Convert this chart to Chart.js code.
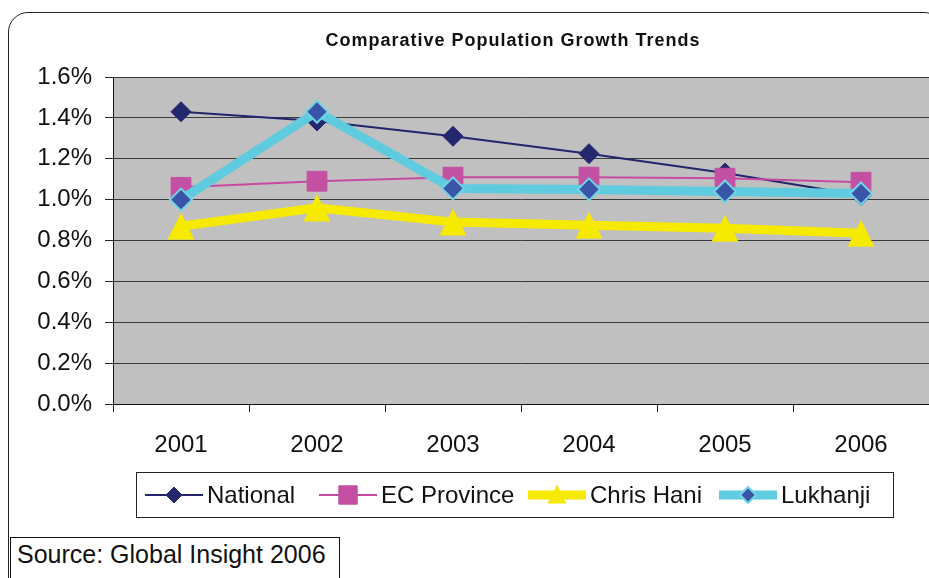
<!DOCTYPE html>
<html>
<head>
<meta charset="utf-8">
<script src="https://cdn.jsdelivr.net/npm/chart.js@4.4.0/dist/chart.umd.min.js"></script>
<style>
  html, body { margin: 0; padding: 0; background: #fff; }
  #wrap { position: relative; width: 929px; height: 578px; overflow: hidden; font-family: "Liberation Sans", Arial, sans-serif; }
  #frame { position: absolute; left: 8px; top: 12px; width: 934px; height: 620px; border: 1px solid #222; border-radius: 20px; }
  #chart { position: absolute; left: 0; top: 0; }
  #title { position: absolute; left: 0; top: 29px; width: 1026px; text-align: center; font-weight: bold; font-size: 18px; letter-spacing: 1px; line-height: 22px; color: #111; }
  #source { position: absolute; left: 10px; top: 537px; width: 322px; height: 50px; border: 1px solid #111; background: #fff; font-size: 25px; line-height: 28px; padding-left: 6px; padding-top: 2px; color: #111; }
</style>
</head>
<body>
<div id="wrap">
  <div id="frame"></div>
  <canvas id="chart" width="929" height="578"></canvas>
  <div id="title">Comparative Population Growth Trends</div>
  <div id="source">Source: Global Insight 2006</div>
</div>
<script>
const years = ['2001', '2002', '2003', '2004', '2005', '2006'];
const seriesNames = ['National', 'EC Province', 'Chris Hani', 'Lukhanji'];
const national = [1.43, 1.385, 1.31, 1.225, 1.13, 1.02];
const ecProvince = [1.06, 1.09, 1.11, 1.11, 1.105, 1.085];
const chrisHani = [0.87, 0.96, 0.89, 0.875, 0.86, 0.835];
const lukhanji = [1.00, 1.43, 1.055, 1.05, 1.04, 1.03];

const fontFamily = '"Liberation Sans", Arial, sans-serif';

// triangle marker centred on its bounding box, like the spreadsheet one
function makeTriangle(size, color) {
  const c = document.createElement('canvas');
  c.width = size; c.height = size;
  const g = c.getContext('2d');
  g.fillStyle = color;
  g.beginPath();
  g.moveTo(size / 2, 0.5);
  g.lineTo(size - 0.5, size - 0.5);
  g.lineTo(0.5, size - 0.5);
  g.closePath();
  g.fill();
  return c;
}
const yellow = '#f6ea00';
const triBig = makeTriangle(28, yellow);
const triSmall = makeTriangle(20, yellow);

const plotBackground = {
  id: 'plotBackground',
  beforeDraw(chart) {
    const a = chart.chartArea;
    const ctx = chart.ctx;
    ctx.save();
    ctx.fillStyle = '#c0c0c0';
    ctx.fillRect(a.left, a.top, a.right - a.left, a.bottom - a.top);
    ctx.restore();
  }
};

const legendStarts = [145, 319, 528, 719];
const boxLegend = {
  id: 'boxLegend',
  afterDraw(chart) {
    const ctx = chart.ctx;
    ctx.save();
    ctx.strokeStyle = '#222';
    ctx.lineWidth = 1;
    ctx.strokeRect(136.5, 472.5, 757, 45);
    const cy = 495;
    chart.data.datasets.forEach(function(ds, i) {
      const x0 = legendStarts[i];
      ctx.strokeStyle = ds.borderColor;
      ctx.lineWidth = ds.borderWidth;
      ctx.beginPath();
      ctx.moveTo(x0, cy);
      ctx.lineTo(x0 + 58, cy);
      ctx.stroke();
      const mx = x0 + 29;
      if (i === 2) {
        ctx.drawImage(triSmall, mx - 10, cy - 11);
      } else {
        ctx.fillStyle = ds.pointBackgroundColor;
        ctx.strokeStyle = ds.pointBorderColor;
        ctx.lineWidth = ds.pointBorderWidth;
        Chart.helpers.drawPoint(ctx, {
          pointStyle: ds.pointStyle,
          radius: ds.legendRadius,
          borderWidth: ds.pointBorderWidth,
          rotation: 0
        }, mx, cy);
      }
      ctx.fillStyle = '#111';
      ctx.font = '24px ' + fontFamily;
      ctx.textBaseline = 'middle';
      ctx.textAlign = 'left';
      ctx.fillText(seriesNames[i], x0 + 62, cy + 1);
    });
    ctx.restore();
  }
};

new Chart(document.getElementById('chart'), {
  type: 'line',
  data: {
    labels: years,
    datasets: [
      {
        label: seriesNames[0],
        data: national,
        borderColor: '#22256c',
        borderWidth: 2,
        pointStyle: 'rectRot',
        pointRadius: 10,
        legendRadius: 8,
        pointBackgroundColor: '#24276e',
        pointBorderColor: '#24276e',
        pointBorderWidth: 1,
        tension: 0,
        order: 4
      },
      {
        label: seriesNames[1],
        data: ecProvince,
        borderColor: '#c64aa2',
        borderWidth: 2,
        pointStyle: 'rect',
        pointRadius: 14,
        legendRadius: 13,
        pointBackgroundColor: '#c450a3',
        pointBorderColor: '#c450a3',
        pointBorderWidth: 1,
        tension: 0,
        order: 3
      },
      {
        label: seriesNames[2],
        data: chrisHani,
        borderColor: yellow,
        borderWidth: 9,
        pointStyle: triBig,
        pointRadius: 14,
        pointBackgroundColor: yellow,
        pointBorderColor: yellow,
        pointBorderWidth: 0,
        tension: 0,
        order: 2
      },
      {
        label: seriesNames[3],
        data: lukhanji,
        borderColor: '#5ecbdf',
        borderWidth: 9,
        pointStyle: 'rectRot',
        pointRadius: 11,
        legendRadius: 8,
        pointBackgroundColor: '#3a55a8',
        pointBorderColor: '#72d4e4',
        pointBorderWidth: 2,
        tension: 0,
        order: 1
      }
    ]
  },
  options: {
    responsive: false,
    animation: false,
    devicePixelRatio: 1,
    layout: { autoPadding: false, padding: { top: 77, left: 0, right: 0, bottom: 0 } },
    plugins: {
      legend: { display: false },
      title: { display: false },
      tooltip: { enabled: false }
    },
    scales: {
      x: {
        offset: true,
        afterFit: function(s) { s.height = 174; s.paddingLeft = 0; s.paddingRight = 0; },
        grid: { offset: true, drawOnChartArea: false, tickLength: 8, color: '#222' },
        border: { color: '#111', width: 1 },
        ticks: { padding: 19, maxRotation: 0, color: '#111', font: { size: 24, family: fontFamily } }
      },
      y: {
        min: 0,
        max: 1.6,
        afterFit: function(s) { s.width = 113; },
        grid: { color: '#3a3a3a', lineWidth: 1, tickLength: 8, tickColor: '#222' },
        border: { color: '#111', width: 1 },
        ticks: {
          stepSize: 0.2,
          padding: 13,
          color: '#111',
          font: { size: 24, family: fontFamily },
          callback: function(v) { return v.toFixed(1) + '%'; }
        }
      }
    }
  },
  plugins: [plotBackground, boxLegend]
});
</script>
</body>
</html>
